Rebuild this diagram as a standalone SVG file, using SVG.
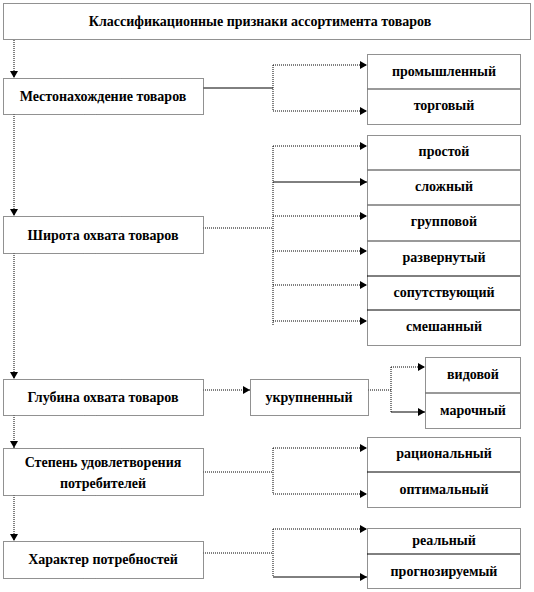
<svg xmlns="http://www.w3.org/2000/svg" width="534" height="592" viewBox="0 0 534 592">
<style>
.box{fill:#fff;stroke:#222;stroke-width:1;stroke-dasharray:1 1}
.div{stroke:#777;stroke-width:1.5}
.t{font-family:'Liberation Serif','DejaVu Serif','Times New Roman',serif;font-weight:bold;font-size:14px;fill:#000;text-anchor:middle}
.d{fill:none;stroke:#000;stroke-width:1;stroke-dasharray:1 1}
.s{fill:none;stroke:#000;stroke-width:1}
</style>
<defs>
<marker id="ah" markerWidth="7" markerHeight="8" refX="7" refY="4" orient="auto" markerUnits="userSpaceOnUse">
<path d="M0,0 L7,4 L0,8 Z" fill="#000"/>
</marker>
</defs>
<rect width="534" height="592" fill="#fff"/>

<g id="connectors">
<path class="d" d="M14,40 V78" marker-end="url(#ah)"/>
<path class="d" d="M14,114 V216" marker-end="url(#ah)"/>
<path class="d" d="M14,253 V379" marker-end="url(#ah)"/>
<path class="d" d="M14,415 V448" marker-end="url(#ah)"/>
<path class="d" d="M14,495 V541" marker-end="url(#ah)"/>
<path class="s" d="M203,88 H273"/>
<path class="d" d="M273,65 V111"/>
<path class="d" d="M273,65 H367" marker-end="url(#ah)"/>
<path class="d" d="M273,111 H367" marker-end="url(#ah)"/>
<path class="d" d="M203,228 H273"/>
<path class="d" d="M273,146 V326"/>
<path class="d" d="M273,146 H367" marker-end="url(#ah)"/>
<path class="s" d="M273,182 H367" marker-end="url(#ah)"/>
<path class="d" d="M273,216 H367" marker-end="url(#ah)"/>
<path class="d" d="M273,251 H367" marker-end="url(#ah)"/>
<path class="d" d="M273,285 H367" marker-end="url(#ah)"/>
<path class="d" d="M273,321 H367" marker-end="url(#ah)"/>
<path class="d" d="M203,390 H250" marker-end="url(#ah)"/>
<path class="d" d="M368,390 H391"/>
<path class="d" d="M391,367 V412"/>
<path class="d" d="M391,367 H425" marker-end="url(#ah)"/>
<path class="s" d="M391,412 H425" marker-end="url(#ah)"/>
<path class="d" d="M203,472 H273"/>
<path class="d" d="M273,448 V494"/>
<path class="d" d="M273,448 H367" marker-end="url(#ah)"/>
<path class="d" d="M273,494 H367" marker-end="url(#ah)"/>
<path class="d" d="M203,553 H273"/>
<path class="d" d="M273,529 V577"/>
<path class="d" d="M273,529 H367" marker-end="url(#ah)"/>
<path class="s" d="M273,577 H367" marker-end="url(#ah)"/>
</g>

<g id="title">
<rect class="box" x="3.5" y="3.5" width="527" height="36"/>
<text class="t" x="260" y="26">Классификационные признаки ассортимента товаров</text>
</g>

<g id="location">
<rect class="box" x="3.5" y="78.5" width="200" height="36"/>
<text class="t" x="103" y="101">Местонахождение товаров</text>
</g>
<g id="width">
<rect class="box" x="3.5" y="216.5" width="200" height="37"/>
<text class="t" x="103" y="240">Широта охвата товаров</text>
</g>
<g id="depth">
<rect class="box" x="3.5" y="379.5" width="200" height="36"/>
<text class="t" x="103" y="402">Глубина охвата товаров</text>
</g>
<g id="satisfaction">
<rect class="box" x="3.5" y="448.5" width="200" height="47"/>
<text class="t" x="103" y="467">Степень удовлетворения</text>
<text class="t" x="103" y="488">потребителей</text>
</g>
<g id="needs">
<rect class="box" x="3.5" y="541.5" width="200" height="37"/>
<text class="t" x="103" y="564">Характер потребностей</text>
</g>
<g id="enlarged">
<rect class="box" x="250.5" y="379.5" width="118" height="36"/>
<text class="t" x="309" y="402">укрупненный</text>
</g>

<g id="location-types">
<rect class="box" x="367.5" y="54.5" width="153" height="70"/>
<line class="div" x1="367" y1="89" x2="520" y2="89"/>
<text class="t" x="444" y="76">промышленный</text>
<text class="t" x="444" y="110">торговый</text>
</g>

<g id="width-types">
<rect class="box" x="367.5" y="135.5" width="153" height="210"/>
<line class="div" x1="367" y1="170" x2="520" y2="170"/>
<line class="div" x1="367" y1="205" x2="520" y2="205"/>
<line class="div" x1="367" y1="241" x2="520" y2="241"/>
<line class="s" x1="367" y1="276" x2="520" y2="276"/>
<line class="s" x1="367" y1="310" x2="520" y2="310"/>
<text class="t" x="444" y="156">простой</text>
<text class="t" x="444" y="191">сложный</text>
<text class="t" x="444" y="226">групповой</text>
<text class="t" x="444" y="262">развернутый</text>
<text class="t" x="444" y="297">сопутствующий</text>
<text class="t" x="444" y="331">смешанный</text>
</g>

<g id="depth-types">
<rect class="box" x="425.5" y="357.5" width="95" height="71"/>
<line class="div" x1="425" y1="393" x2="520" y2="393"/>
<text class="t" x="473" y="379">видовой</text>
<text class="t" x="473" y="415">марочный</text>
</g>

<g id="satisfaction-types">
<rect class="box" x="367.5" y="437.5" width="153" height="70"/>
<line class="s" x1="367" y1="472" x2="520" y2="472"/>
<text class="t" x="444" y="458">рациональный</text>
<text class="t" x="444" y="494">оптимальный</text>
</g>

<g id="needs-types">
<rect class="box" x="367.5" y="528.5" width="153" height="60"/>
<line class="s" x1="367" y1="554" x2="520" y2="554"/>
<text class="t" x="444" y="545">реальный</text>
<text class="t" x="444" y="576">прогнозируемый</text>
</g>
</svg>
